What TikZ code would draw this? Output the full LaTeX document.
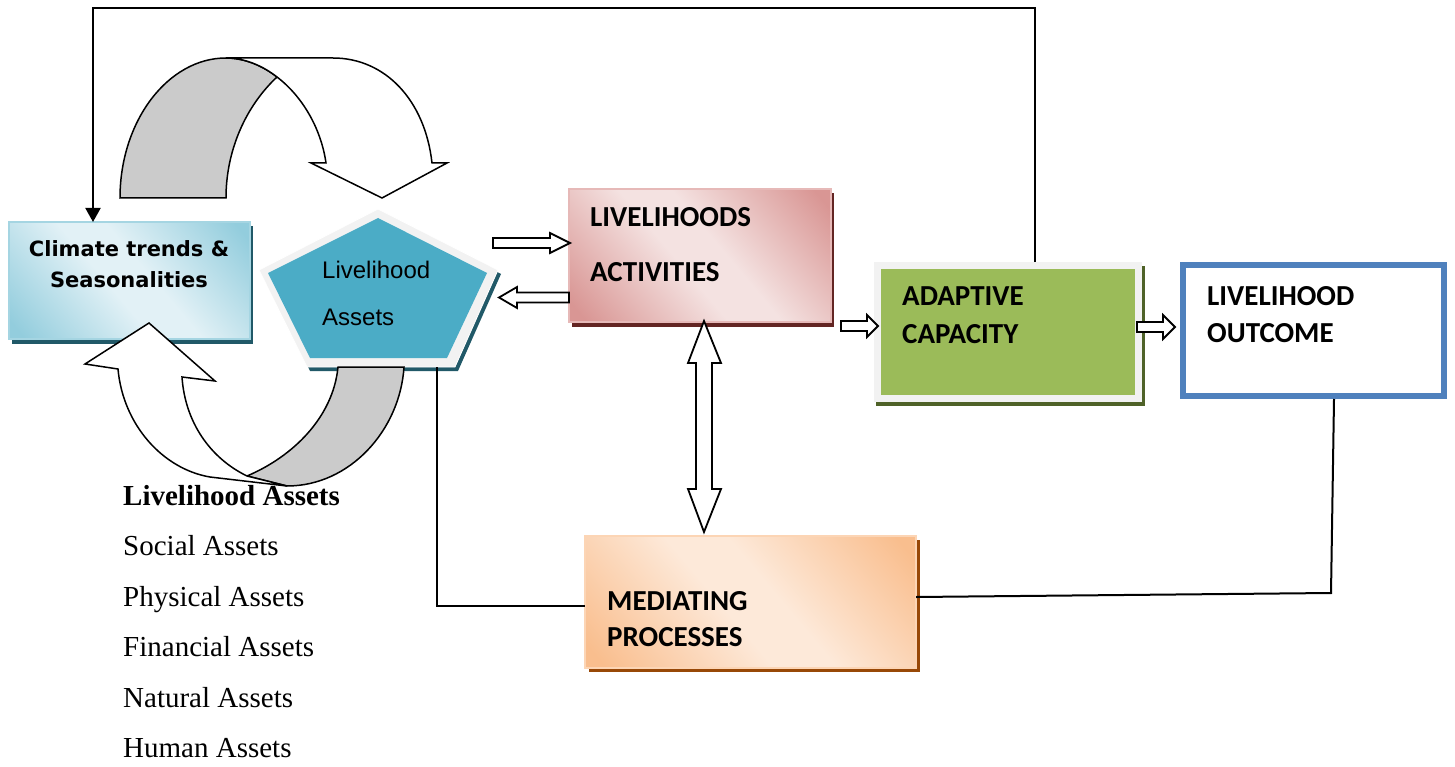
\documentclass[tikz,border=0pt]{standalone}
\usepackage{fontspec}
\setmainfont{Liberation Serif}
\newfontfamily\calfont{Carlito}
\newfontfamily\djfont{DejaVu Sans}
\newfontfamily\arfont{Liberation Sans}
\usetikzlibrary{arrows.meta,calc}
\definecolor{clDark}{HTML}{93CDDD}
\definecolor{clLight}{HTML}{E2F1F6}
\definecolor{clEdge}{HTML}{A5D5E2}
\definecolor{tealShadow}{HTML}{215968}
\definecolor{acDark}{HTML}{D99694}
\definecolor{acLight}{HTML}{F4E2E1}
\definecolor{acEdge}{HTML}{E6B9B8}
\definecolor{acShadow}{HTML}{632523}
\definecolor{meDark}{HTML}{F9BE8E}
\definecolor{meLight}{HTML}{FDE9D9}
\definecolor{meEdge}{HTML}{FCD5B5}
\definecolor{meShadow}{HTML}{984807}
\definecolor{adGreen}{HTML}{9BBB59}
\definecolor{frameGrey}{HTML}{F2F2F2}
\definecolor{adShadow}{HTML}{4F6228}
\definecolor{ocBlue}{HTML}{4F81BD}
\definecolor{pentTeal}{HTML}{4BACC6}
\definecolor{arrGrey}{HTML}{CBCBCB}
\colorlet{dk}{clDark}
\colorlet{lt}{clLight}
\pgfdeclarehorizontalshading[dk,lt]{diagband}{100bp}{color(0bp)=(dk); color(18bp)=(dk); color(45bp)=(lt); color(55bp)=(lt); color(82bp)=(dk); color(100bp)=(dk)}
\begin{document}
\begin{tikzpicture}[x=1pt,y=-1pt,line join=miter,
  boxbase/.style={rectangle,anchor=north west,inner sep=0pt,outer sep=0pt},
  diagshade/.style={shading=diagband,shading angle=40},
  boxlabel/.style={anchor=base west,inner sep=0pt,font=\calfont\bfseries\fontsize{29}{30}\selectfont},
  listlabel/.style={anchor=base west,inner sep=0pt,font=\fontsize{29}{32}\selectfont},
  conn/.style={line width=2pt},
  blockarrow/.style={draw=black,fill=white,line width=1.8pt},
  curvearrow/.style={draw=black,line width=1.5pt}]
\useasboundingbox (0,0) rectangle (1455,767);

% ---------- climate box ----------
\fill[tealShadow] (12,226) rectangle (253,344);
\colorlet{dk}{clDark}\colorlet{lt}{clLight}
\shade[diagshade] (9,222) rectangle (250,339);
\node[boxbase,draw=clEdge,line width=2pt,minimum width=241pt,minimum height=117pt] (climate) at (9,222) {};
\node[anchor=base,inner sep=0pt,font=\djfont\bfseries\fontsize{21}{24}\selectfont] (climate1) at (129,257) {Climate trends \&};
\node[anchor=base,inner sep=0pt,font=\djfont\bfseries\fontsize{21}{24}\selectfont] (climate2) at (129,287) {Seasonalities};

% ---------- activities box ----------
\fill[acShadow] (572,193) rectangle (834,327);
\colorlet{dk}{acDark}\colorlet{lt}{acLight}
\shade[diagshade] (569,189) rectangle (831,322);
\node[boxbase,draw=acEdge,line width=2pt,minimum width=262pt,minimum height=133pt] (act) at (569,189) {};
\node[boxlabel] (act1) at (590,227) {LIVELIHOODS};
\node[boxlabel] (act2) at (590,281) {ACTIVITIES};

% ---------- mediating box ----------
\fill[meShadow] (589,540) rectangle (920,672);
\colorlet{dk}{meDark}\colorlet{lt}{meLight}
\shade[diagshade] (585,536) rectangle (916,668);
\node[boxbase,draw=meEdge,line width=2pt,minimum width=331pt,minimum height=132pt] (med) at (585,536) {};
\node[boxlabel] (med1) at (607,610) {MEDIATING};
\node[boxlabel] (med2) at (607,646) {PROCESSES};

% ---------- adaptive box ----------
\fill[adShadow] (876,266) rectangle (1145,406);
\node[boxbase,fill=adGreen,draw=frameGrey,line width=7pt,minimum width=261pt,minimum height=133pt] (adapt) at (877.5,265.5) {};
\node[boxlabel] (adapt1) at (902,305) {ADAPTIVE};
\node[boxlabel] (adapt2) at (902,343) {CAPACITY};

% ---------- outcome box ----------
\node[boxbase,fill=white,draw=ocBlue,line width=6pt,minimum width=261pt,minimum height=131pt] (out) at (1183,265) {};
\node[boxlabel] (out1) at (1207,305) {LIVELIHOOD};
\node[boxlabel] (out2) at (1207,342) {OUTCOME};

% ---------- pentagon ----------
\fill[tealShadow] (381,213) -- (501,274) -- (458,371) -- (310,371) -- (262,274) -- cycle;
\filldraw[fill=frameGrey,draw=white,line width=0.8pt] (378,209) -- (498,270) -- (455,367) -- (307,367) -- (259,270) -- cycle;
\fill[pentTeal] (378,218) -- (487,273) -- (447,358) -- (310,358) -- (268,273) -- cycle;
\coordinate (assetsBottom) at (437,367);
\node[anchor=base west,inner sep=0pt,font=\arfont\fontsize{24}{26}\selectfont] (assets1) at (322,278) {Livelihood};
\node[anchor=base west,inner sep=0pt,font=\arfont\fontsize{24}{26}\selectfont] (assets2) at (322,325) {Assets};

% ---------- curved arrows ----------
\path[curvearrow,fill=arrGrey] (120,198) .. controls (120,121) and (168,58) .. (226,58)
   .. controls (245,58) and (263,66) .. (277,77)
   .. controls (246,106) and (226,150) .. (226,198) -- cycle;
\path[curvearrow,fill=white] (226,58) -- (333,58) .. controls (385,58) and (425,100) .. (432,163)
   -- (447,163) -- (382,198) -- (311,163) -- (326,163)
   .. controls (321,128) and (302,96) .. (277,77)
   .. controls (263,66) and (245,58) .. (226,58) -- cycle;

\path[curvearrow,fill=arrGrey] (338,367) -- (404,367) .. controls (400,430) and (350,486) .. (287,486)
   -- (247,476) .. controls (292,457) and (333,418) .. (338,367) -- cycle;
\path[curvearrow,fill=white] (149,323) -- (215,381) -- (182,377)
   .. controls (185,422) and (210,458) .. (247,476) -- (287,486) -- (210,477)
   .. controls (163,469) and (123,425) .. (118,369) -- (85,364) -- cycle;

% ---------- block arrows ----------
\path[blockarrow] (493,238) -- (550,238) -- (550,233) -- (570,243) -- (550,253) -- (550,248) -- (493,248) -- cycle;
\path[blockarrow] (569,292.5) -- (517,292.5) -- (517,287) -- (499,297.5) -- (517,308) -- (517,302.5) -- (569,302.5) -- cycle;
\path[blockarrow] (704,321) -- (721,363) -- (712,363) -- (712,489) -- (721,489) -- (704,532) -- (688,489) -- (696,489) -- (696,363) -- (688,363) -- cycle;
\path[blockarrow] (841,321) -- (867,321) -- (867,315) -- (878,326) -- (867,337) -- (867,331) -- (841,331) -- cycle;
\path[blockarrow] (1137,322) -- (1163,322) -- (1163,315) -- (1175,327) -- (1163,339) -- (1163,332) -- (1137,332) -- cycle;

% ---------- connectors ----------
\coordinate (topRight) at (1035,8);
\coordinate (topLeft) at (93,8);
\draw[conn,-{Triangle[width=15pt,length=14pt]}] ($(adapt.north west)+(157.5,-3.5)$) -- (topRight) -- (topLeft) -- (climate.north west -| topLeft);
\coordinate (medCorner) at (437,606);
\draw[conn] (assetsBottom) -- (medCorner) -- (medCorner -| med.west);
\coordinate (outCorner) at (1331,593);
\draw[conn] ($(out.south west)+(151,3)$) -- (outCorner) -- (916,597);

% ---------- list ----------
\node[listlabel,font=\bfseries\fontsize{29}{32}\selectfont] (list0) at (123,505) {Livelihood Assets};
\node[listlabel] (list1) at (123,555) {Social Assets};
\node[listlabel] (list2) at (123,606) {Physical Assets};
\node[listlabel] (list3) at (123,656) {Financial Assets};
\node[listlabel] (list4) at (123,707) {Natural Assets};
\node[listlabel] (list5) at (123,757) {Human Assets};
\end{tikzpicture}
\end{document}
